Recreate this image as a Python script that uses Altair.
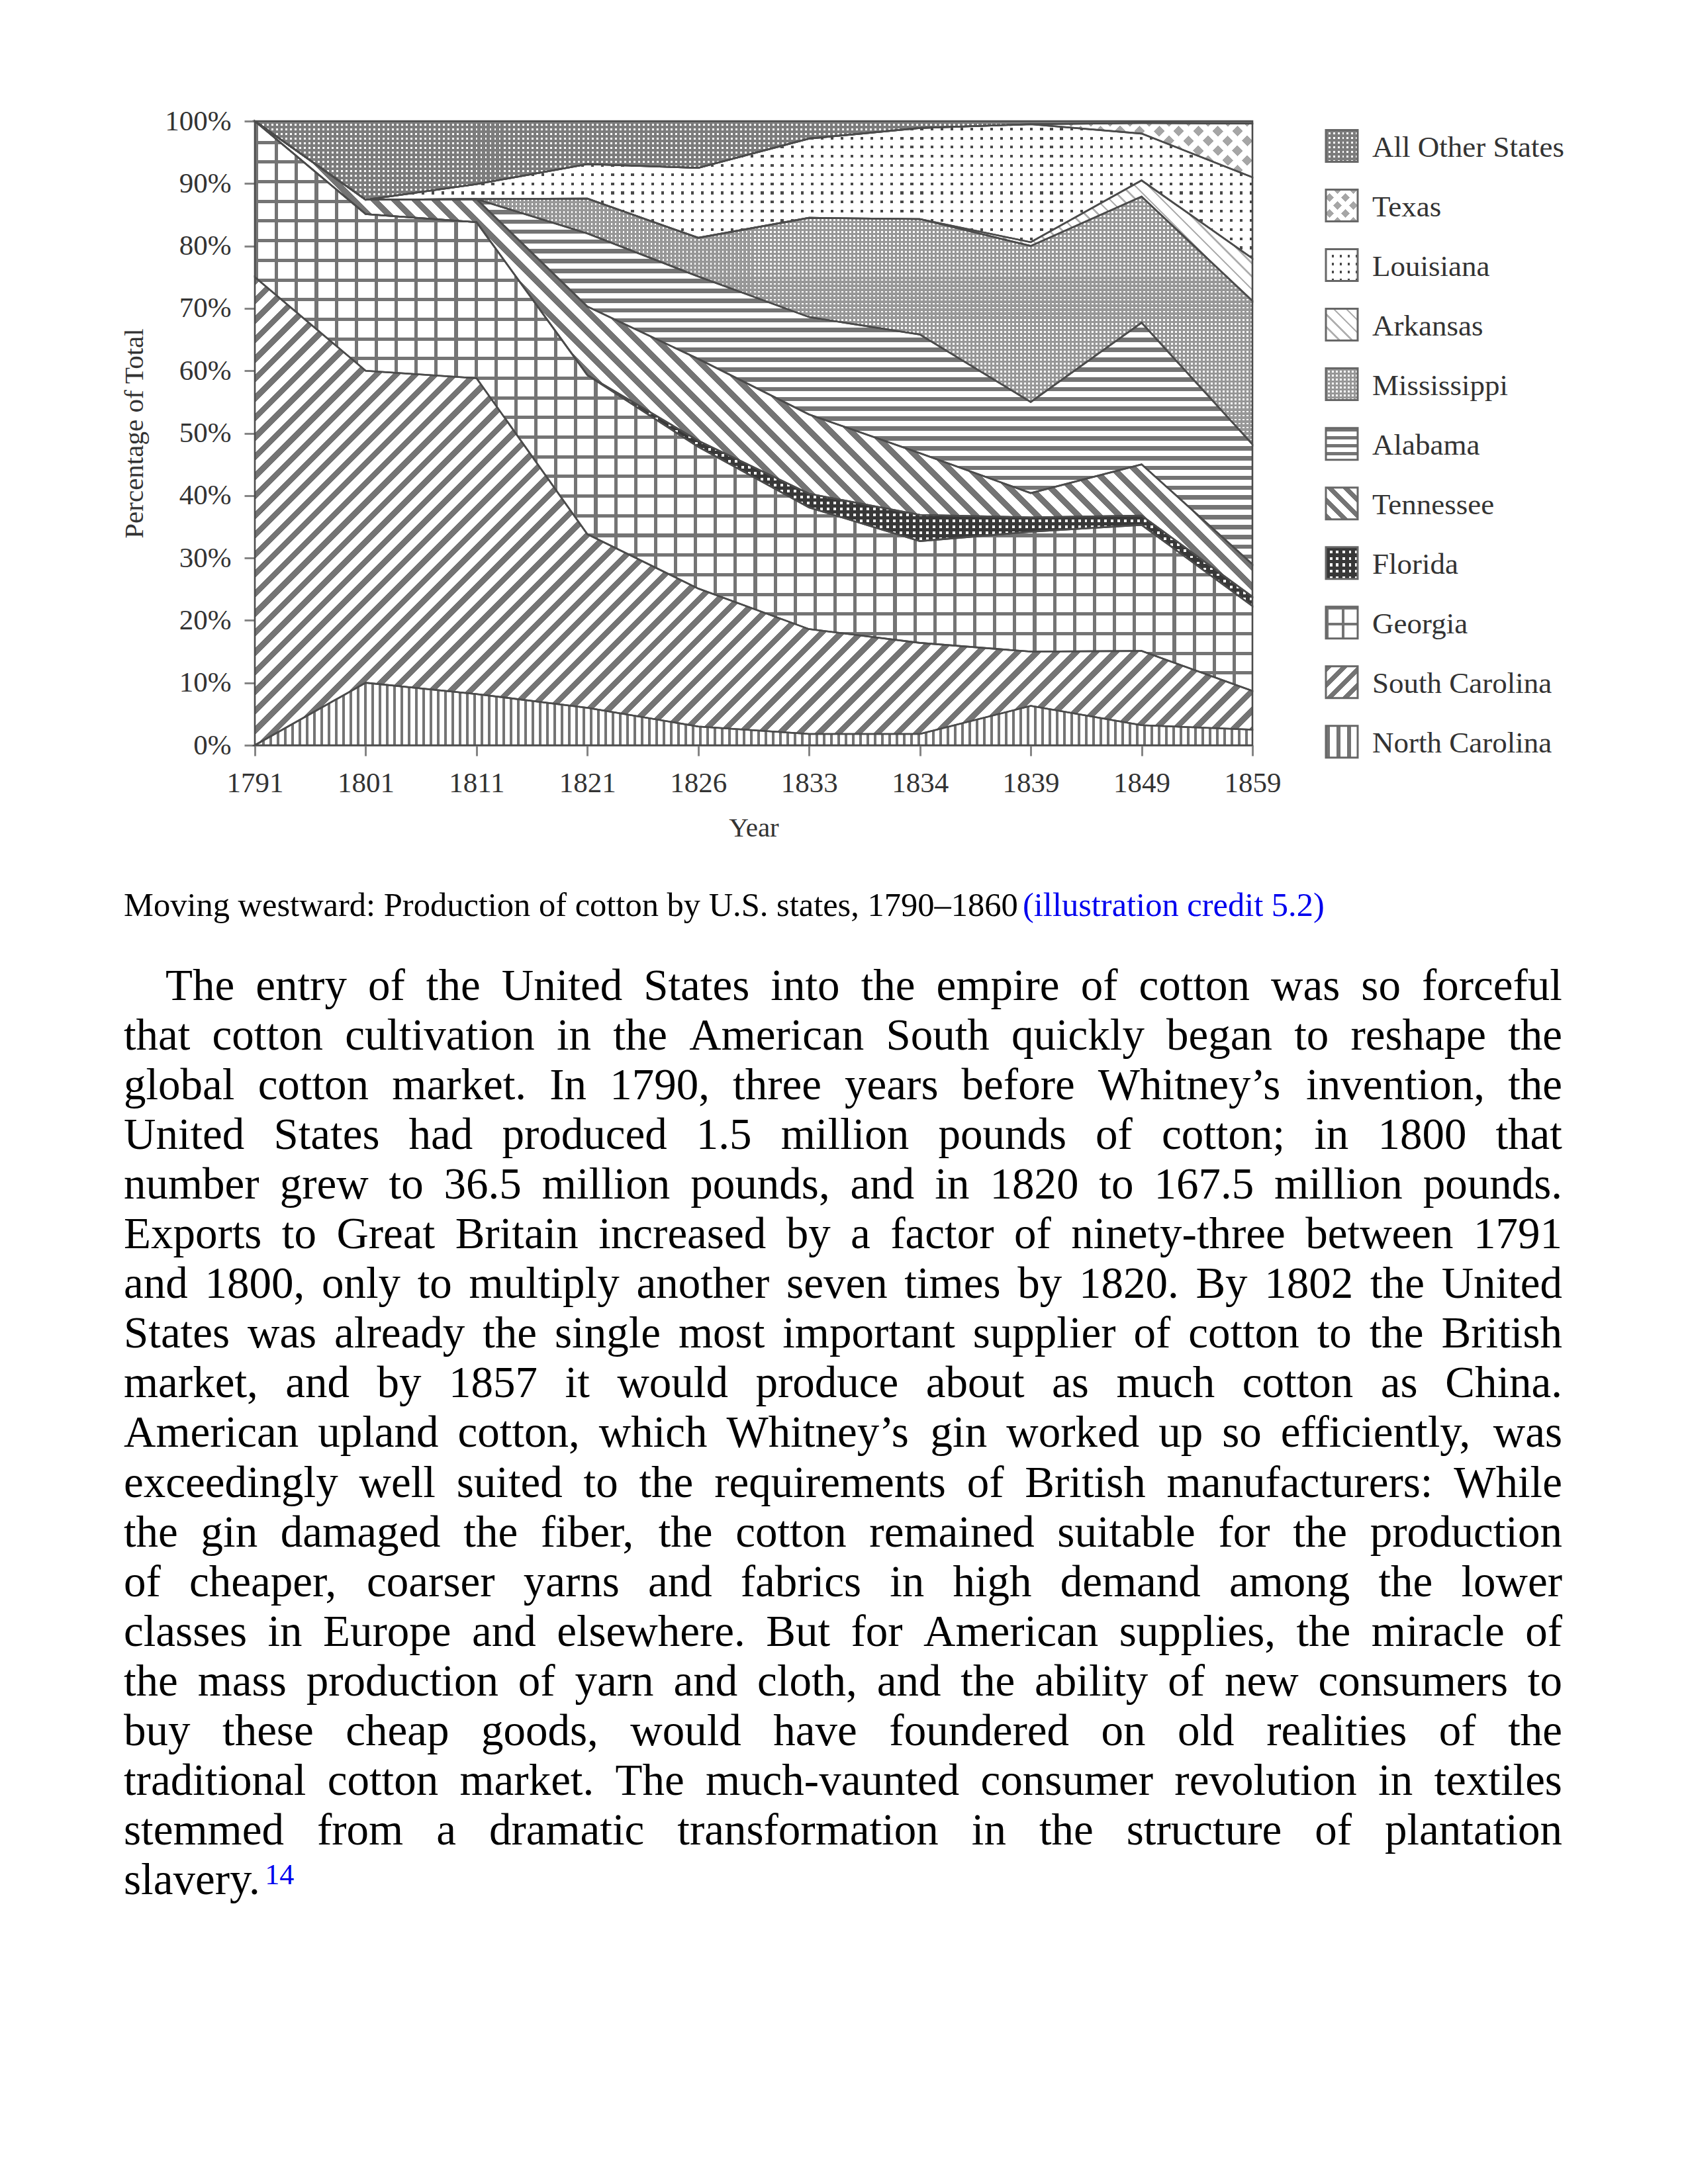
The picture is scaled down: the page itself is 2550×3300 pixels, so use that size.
import math
import altair as alt
import pandas as pd

# ---------------- data (percent of US cotton production) ----------------
years = ["1791", "1801", "1811", "1821", "1826", "1833", "1834", "1839", "1849", "1859"]
state_order = ["North Carolina", "South Carolina", "Georgia", "Florida", "Tennessee",
               "Alabama", "Mississippi", "Arkansas", "Louisiana", "Texas", "All Other States"]
north_carolina = [0.0, 10.0, 8.2, 6.0, 3.0, 1.8, 1.8, 6.3, 3.2, 2.5]
south_carolina = [75.0, 50.0, 50.6, 27.8, 22.1, 16.8, 14.6, 8.7, 11.9, 6.2]
georgia = [25.0, 25.1, 25.0, 25.5, 22.7, 19.5, 16.3, 19.2, 20.2, 13.6]
florida = [0.0, 0.0, 0.0, 0.0, 1.0, 2.2, 4.2, 2.3, 1.5, 1.5]
tennessee = [0.0, 2.3, 3.7, 11.0, 13.1, 12.7, 9.9, 3.9, 8.2, 5.2]
alabama = [0.0, 0.0, 0.0, 11.7, 13.2, 15.6, 19.0, 14.6, 22.7, 19.2]
mississippi = [0.0, 0.0, 0.0, 5.6, 6.2, 15.9, 18.5, 25.0, 20.2, 23.0]
arkansas = [0.0, 0.0, 0.0, 0.0, 0.0, 0.0, 0.0, 0.6, 2.6, 6.8]
louisiana = [0.0, 0.0, 2.4, 5.5, 11.2, 12.7, 14.6, 18.9, 7.5, 13.0]
texas = [0.0, 0.0, 0.0, 0.0, 0.0, 0.0, 0.0, 0.0, 1.7, 8.6]
all_other = [0.0, 12.6, 10.1, 6.9, 7.5, 2.8, 1.1, 0.5, 0.3, 0.4]
y_ticks = [0, 10, 20, 30, 40, 50, 60, 70, 80, 90, 100]
legend_labels = ["All Other States", "Texas", "Louisiana", "Arkansas", "Mississippi", "Alabama",
                 "Tennessee", "Florida", "Georgia", "South Carolina", "North Carolina"]

caption_main = "Moving westward: Production of cotton by U.S. states, 1790\u20131860"
caption_link = "(illustration credit 5.2)"
body_lines = [
    "The entry of the United States into the empire of cotton was so forceful",
    "that cotton cultivation in the American South quickly began to reshape the",
    "global cotton market. In 1790, three years before Whitney\u2019s invention, the",
    "United States had produced 1.5 million pounds of cotton; in 1800 that",
    "number grew to 36.5 million pounds, and in 1820 to 167.5 million pounds.",
    "Exports to Great Britain increased by a factor of ninety-three between 1791",
    "and 1800, only to multiply another seven times by 1820. By 1802 the United",
    "States was already the single most important supplier of cotton to the British",
    "market, and by 1857 it would produce about as much cotton as China.",
    "American upland cotton, which Whitney\u2019s gin worked up so efficiently, was",
    "exceedingly well suited to the requirements of British manufacturers: While",
    "the gin damaged the fiber, the cotton remained suitable for the production",
    "of cheaper, coarser yarns and fabrics in high demand among the lower",
    "classes in Europe and elsewhere. But for American supplies, the miracle of",
    "the mass production of yarn and cloth, and the ability of new consumers to",
    "buy these cheap goods, would have foundered on old realities of the",
    "traditional cotton market. The much-vaunted consumer revolution in textiles",
    "stemmed from a dramatic transformation in the structure of plantation",
    "slavery.",
]
footnote = "14"

shares = dict(zip(state_order, [north_carolina, south_carolina, georgia, florida, tennessee,
                                alabama, mississippi, arkansas, louisiana, texas, all_other]))
rows = []
for si, s in enumerate(state_order):
    for yi, yr in enumerate(years):
        rows.append({"year": yr, "state": s, "order": si, "share": shares[s][yi]})
df = pd.DataFrame(rows)

# ---------------- layout ----------------
W, H = 1507, 943          # plot area
X0, Y0 = 385, 183         # page position of plot origin (page has 8px margin)
PAD = {"left": X0 - 8, "top": Y0 - 8, "right": 2550 - 16 - (X0 - 8) - W, "bottom": 3270 - (Y0 - 8) - H}
SERIF = "Liberation Serif"
LINE = "#747474"
CLEAR = "rgba(255,255,255,0)"

# ---------------- pattern fills built from linear gradients ----------------
def stripe_grad(direction, period, frac, c_line, c_bg, bw, bh):
    if direction == "v":
        span, co = bw, (0, 0, 1, 0)
    elif direction == "h":
        span, co = bh, (0, 0, 0, 1)
    else:
        k = (bw * bw + bh * bh) / (bw + bh)
        span = (bw + bh) / math.sqrt(2)
        co = (0, 0, bw / k, bh / k) if direction == "/" else (0, 1, bw / k, 1 - bh / k)
    n = max(1, int(round(span / period)))
    stops = []
    for i in range(n):
        a, b, c = i / n, (i + frac) / n, (i + 1) / n
        stops += [{"offset": round(a, 6), "color": c_line}, {"offset": round(b, 6), "color": c_line},
                  {"offset": round(b, 6), "color": c_bg}, {"offset": round(c, 6), "color": c_bg}]
    return {"gradient": "linear", "x1": round(co[0], 6), "y1": round(co[1], 6),
            "x2": round(co[2], 6), "y2": round(co[3], 6), "stops": stops}

PAT = {
    "North Carolina": dict(kind="stripes", dir="v", period=11, frac=0.36, line=LINE),
    "South Carolina": dict(kind="stripes", dir="/", period=21, frac=0.42, line=LINE),
    "Georgia": dict(kind="grid", period=(30, 29.5), frac=0.17, line=LINE),
    "Florida": dict(kind="dots", dirs=("v", "h"), period=(10, 9), gap=(0.4, 0.42), base="#ffffff", fg="#383838"),
    "Tennessee": dict(kind="stripes", dir="\\", period=22, frac=0.42, line=LINE),
    "Alabama": dict(kind="stripes", dir="h", period=15, frac=0.45, line=LINE),
    "Mississippi": dict(kind="dots", dirs=("v", "h"), period=(6, 6), gap=(0.45, 0.45), base="#ffffff", fg="#979797"),
    "Arkansas": dict(kind="stripes", dir="\\", period=14, frac=0.18, line="#b0b0b0"),
    "Louisiana": dict(kind="dots", dirs=("v", "h"), period=(15, 14), gap=(0.28, 0.3), base="#4a4a4a", fg="#ffffff"),
    "Texas": dict(kind="dots", dirs=("/", "\\"), period=(21, 21), gap=(0.55, 0.55), base="#a6a6a6", fg="#ffffff"),
    "All Other States": dict(kind="dots", dirs=("v", "h"), period=(7, 7), gap=(0.42, 0.42), base="#ffffff", fg="#7c7c7c"),
}
LEG_SCALE = {"North Carolina": 1.3, "South Carolina": 0.8, "Georgia": 0.8, "Tennessee": 0.8,
             "Alabama": 0.8, "Louisiana": 0.9, "Texas": 0.9}

def fills(state, bw, bh, scale=1.0):
    p = PAT[state]
    if p["kind"] == "stripes":
        return [stripe_grad(p["dir"], p["period"] * scale, p["frac"], p["line"], "#ffffff", bw, bh)]
    if p["kind"] == "grid":
        return [stripe_grad("v", p["period"][0] * scale, p["frac"], p["line"], "#ffffff", bw, bh),
                stripe_grad("h", p["period"][1] * scale, p["frac"], p["line"], CLEAR, bw, bh)]
    out = [p["base"]]
    for d, per, g in zip(p["dirs"], p["period"], p["gap"]):
        out.append(stripe_grad(d, per * scale, 1 - g, p["fg"], CLEAR, bw, bh))
    return out

# bounding boxes of each stacked band (pixels), used to size the pattern periods
cum = [0.0] * len(years)
bbox = {}
for s in state_order:
    lo = cum[:]
    cum = [c + v for c, v in zip(cum, shares[s])]
    bbox[s] = (W, max(1.0, (max(cum) - min(lo)) / 100.0 * H))

# ---------------- chart ----------------
x_enc = alt.X("year:O", sort=years, scale=alt.Scale(type="point", padding=0, domain=years),
              axis=alt.Axis(labelAngle=0, labelPadding=20, titlePadding=26), title="Year")
y_enc = alt.Y("y1:Q", scale=alt.Scale(domain=[0, 100], nice=False),
              axis=alt.Axis(values=y_ticks, labelExpr="datum.value + '%'", labelPadding=20, titlePadding=24),
              title="Percentage of Total")

stacked = alt.Chart(df).transform_stack(
    stack="share", as_=["y0", "y1"], groupby=["year"], sort=[alt.SortField("order", "ascending")])

layers = []
for s in state_order:
    for f in fills(s, *bbox[s]):
        layers.append(stacked.transform_filter(alt.datum.state == s)
                      .mark_area(fill=f, opacity=1, interpolate="linear")
                      .encode(x=x_enc, y=y_enc, y2="y0:Q"))

layers.append(stacked.mark_area(fillOpacity=0, stroke="#4b4b4b", strokeWidth=2.6, interpolate="linear")
              .encode(x=x_enc, y=y_enc, y2="y0:Q", detail="state:N"))

# legend (patterned swatches)
LX, LT, LSTEP, LS = 2003 - X0, 196.5 - Y0, 90.03, 48
for i, s in enumerate(legend_labels):
    one = alt.Chart(pd.DataFrame({"state": [s]}))
    top = LT + i * LSTEP
    pos = dict(x=alt.value(LX), x2=alt.value(LX + LS), y=alt.value(top), y2=alt.value(top + LS))
    for f in fills(s, LS, LS, LEG_SCALE.get(s, 1.0)):
        layers.append(one.mark_rect(fill=f, opacity=1).encode(**pos))
    layers.append(one.mark_rect(fillOpacity=0, stroke="#676767", strokeWidth=3).encode(**pos))

label_df = pd.DataFrame({"k": [0]})
layers.append(alt.Chart(label_df).mark_text(
    text=legend_labels, align="left", baseline="middle", font=SERIF, fontSize=45,
    lineHeight=LSTEP, color="#333333").encode(
    x=alt.value(2073 - X0), y=alt.value(223 - Y0)))

# ---------------- caption and body text (Times metrics used to justify lines) ----------------
TW = {" ": 250, ".": 250, ",": 250, ";": 278, ":": 278, "-": 333, "\u2013": 500, "\u2019": 333,
      "(": 333, ")": 333, "%": 833}
for c in "0123456789":
    TW[c] = 500
TW.update(dict(zip("abcdefghijklmnopqrstuvwxyz",
                   [444, 500, 444, 500, 444, 333, 500, 500, 278, 278, 500, 278, 778, 500, 500, 500, 500,
                    333, 389, 278, 500, 500, 722, 500, 500, 444])))
TW.update(dict(zip("ABCDEFGHIJKLMNOPQRSTUVWXYZ",
                   [722, 667, 667, 722, 611, 556, 722, 722, 333, 389, 722, 611, 889, 722, 722, 556, 722,
                    667, 556, 611, 722, 722, 944, 722, 722, 611])))

def textw(t, fs):
    return sum(TW.get(c, 500) for c in t) * fs / 1000.0

CAP_FS = 50.5
cap_base = 1384 - Y0
layers.append(alt.Chart(label_df).mark_text(
    text=caption_main, align="left", baseline="alphabetic", font=SERIF, fontSize=CAP_FS, color="#000000")
    .encode(x=alt.value(187 - X0), y=alt.value(cap_base)))
layers.append(alt.Chart(label_df).mark_text(
    text=caption_link, align="left", baseline="alphabetic", font=SERIF, fontSize=CAP_FS, color="#0000ee")
    .encode(x=alt.value(1545 - X0), y=alt.value(cap_base)))

BODY_FS = 67
LEFT, RIGHT, INDENT = 187, 2360, 250
BASE0, BSTEP = 1511, 75.05
words = []
for li, line in enumerate(body_lines):
    ws = line.split(" ")
    start = INDENT if li == 0 else LEFT
    natural = sum(textw(w, BODY_FS) for w in ws)
    last = li == len(body_lines) - 1
    gap = textw(" ", BODY_FS) if (last or len(ws) == 1) else (RIGHT - start - natural) / (len(ws) - 1)
    xp = start
    for w in ws:
        words.append({"word": w, "x": xp - X0, "y": BASE0 + li * BSTEP - Y0})
        xp += textw(w, BODY_FS) + gap
end_last = words[-1]["x"] + textw(words[-1]["word"], BODY_FS)
words_df = pd.DataFrame(words)
layers.append(alt.Chart(words_df).mark_text(
    align="left", baseline="alphabetic", font=SERIF, fontSize=BODY_FS, color="#000000").encode(
    x=alt.X("x:Q", scale=None, axis=None), y=alt.Y("y:Q", scale=None, axis=None), text="word:N"))
layers.append(alt.Chart(label_df).mark_text(
    text=footnote, align="left", baseline="alphabetic", font=SERIF, fontSize=44, color="#0000ee").encode(
    x=alt.value(end_last + 3), y=alt.value(2847 - Y0)))

chart = alt.layer(*layers).properties(
    width=W, height=H, padding=PAD, autosize=alt.AutoSizeParams(type="none"),
    background="#ffffff",
).configure_view(stroke=None).configure_axis(
    domainColor="#858585", domainWidth=3, tickColor="#858585", tickWidth=3, tickSize=16,
    labelFont=SERIF, labelFontSize=43, labelColor="#333333", titleFont=SERIF, titleFontSize=41,
    titleFontWeight="normal", titleColor="#333333", grid=False, zindex=1,
)

chart.save("out.html", embed_options={"renderer": "svg", "actions": False})
